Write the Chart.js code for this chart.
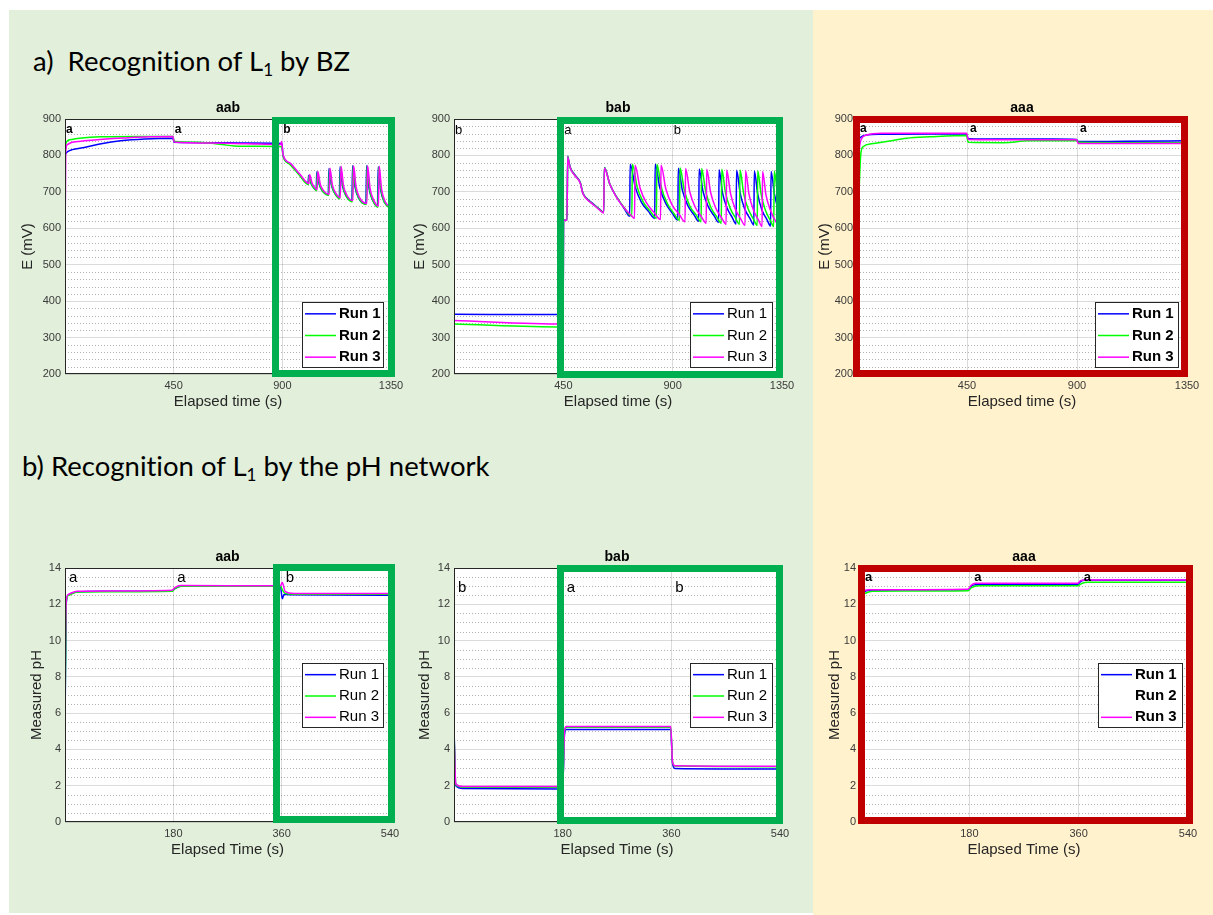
<!DOCTYPE html>
<html>
<head>
<meta charset="utf-8">
<script src="https://cdn.jsdelivr.net/npm/chart.js@4.4.1/dist/chart.umd.min.js"></script>
<style>
	body{margin:0;background:#fff;width:1213px;height:915px;position:relative;overflow:hidden;}
	.panel{position:absolute;}
	#fondoVerde{left:9px;top:10px;width:804px;height:903px;background:#e2efda;}
	#fondoAmarillo{left:813px;top:10px;width:400px;height:905px;background:#fff2cc;}
	.encabezado{position:absolute;font-family:Lato,sans-serif;font-size:27.5px;line-height:32px;color:#000;white-space:pre;font-variant-ligatures:none;}
	.encabezado sub{font-size:0.62em;vertical-align:-0.3em;line-height:0;}
	canvas{position:absolute;}
	.marco{position:absolute;box-sizing:border-box;border:7px solid #00b050;}
	.marco.rojo{border-color:#c00000;}
</style>
</head>
<body>
<div class="panel" id="fondoVerde"></div>
<div class="panel" id="fondoAmarillo"></div>
<div class="encabezado" style="left:33px;top:45px;">a)  Recognition of L<sub>1</sub> by BZ</div>
<div class="encabezado" style="left:22px;top:450px;">b) Recognition of L<sub>1</sub> by the pH network</div>

<canvas id="bzAab"></canvas>
<canvas id="bzBab"></canvas>
<canvas id="bzAaa"></canvas>
<canvas id="phAab"></canvas>
<canvas id="phBab"></canvas>
<canvas id="phAaa"></canvas>

<div class="marco" style="left:272px;top:117px;width:123px;height:260px;"></div>
<div class="marco" style="left:557px;top:117px;width:226px;height:261px;"></div>
<div class="marco rojo" style="left:853px;top:116px;width:335px;height:261px;"></div>
<div class="marco" style="left:273px;top:564px;width:122px;height:259px;"></div>
<div class="marco" style="left:557px;top:565px;width:226px;height:259px;"></div>
<div class="marco rojo" style="left:858px;top:565px;width:335px;height:259px;"></div>

<script>
// Run names and colours
const runLabels = ['Run 1', 'Run 2', 'Run 3'];
const runColors = ['#0000ff', '#00ff00', '#ff00ff'];

// BZ aab (time in s, E in mV)
const bzAabTime1 = [0,4,12,30,80,150,230,330,447,452,600,750,898,903,930,970,1006,1009,1019,1030,1040,1043,1053,1068,1090,1093,1103,1118,1136,1139,1149,1164,1188,1191,1201,1216,1246,1249,1259,1274,1294,1297,1307,1322,1350];
const bzAabRun1  = [800,806,811,816,822,832,840,845,847,836,835,834,833,800,778,748,722,745,723,711,705,755,720,701,692,764,719,695,683,769,717,689,675,772,714,683,667,772,710,677,660,769,706,672,655];
const bzAabTime2 = [0,3,10,30,60,150,300,447,452,550,650,700,800,898,903,930,970,1008,1011,1021,1032,1042,1045,1055,1070,1092,1095,1105,1120,1138,1141,1151,1166,1190,1193,1203,1218,1248,1251,1261,1276,1296,1299,1309,1324,1350];
const bzAabRun2  = [800,830,840,844,847,851,852,852,839,836,830,826,825,824,798,776,746,720,744,721,709,703,754,718,699,690,763,717,693,681,768,715,687,673,771,712,681,665,771,708,675,658,768,704,670,653];
const bzAabTime3 = [0,1,3,10,30,80,170,250,350,447,452,600,750,893,897,903,932,972,1010,1013,1023,1034,1044,1047,1057,1072,1094,1097,1107,1122,1140,1143,1153,1168,1192,1195,1205,1220,1250,1253,1263,1278,1298,1301,1311,1326,1350];
const bzAabRun3  = [370,640,810,830,836,840,845,848,851,852,837,834,832,830,838,802,779,749,723,747,724,712,706,756,721,702,693,765,720,696,684,770,718,690,676,772,715,684,668,772,711,678,661,770,707,673,657];

// BZ bab
const bzBabTime1 = [0,449,451,465,468,471,478,497,515,520,530,545,573,600,616,619,642,669,700,723,725,746,771,802,826,828,847,871,899,921,923,940,962,988,1007,1009,1025,1046,1071,1089,1091,1105,1123,1145,1161,1163,1178,1196,1218,1234,1236,1250,1267,1288,1303,1305,1319,1336,1350];
const bzBabRun1  = [364,363,622,622,798,790,768,747,732,725,698,683,667,652,644,767,720,686,655,633,776,713,672,645,627,776,712,669,641,623,765,704,663,637,619,763,701,660,634,616,761,698,657,630,612,759,696,654,627,609,757,694,651,624,606,756,693,650,632];
const bzBabTime2 = [0,449,451,465,468,471,478,497,515,520,530,545,573,600,616,619,642,669,700,732,734,754,779,810,833,835,854,878,906,928,930,948,970,997,1017,1019,1036,1056,1081,1100,1102,1117,1136,1158,1175,1177,1192,1210,1232,1248,1250,1264,1281,1301,1316,1318,1332,1350];
const bzBabRun2  = [337,329,622,622,797,789,767,746,731,724,697,682,666,651,643,766,720,686,657,633,776,713,672,645,627,776,711,668,640,622,766,704,662,636,618,764,701,659,632,614,762,699,656,629,611,760,696,654,626,608,758,694,651,623,605,757,693,652];
const bzBabTime3 = [0,449,451,465,468,471,478,497,515,520,530,545,573,600,616,619,642,669,705,730,743,745,766,793,825,850,852,872,897,928,951,953,970,992,1018,1038,1040,1056,1077,1101,1120,1122,1138,1157,1180,1198,1200,1214,1232,1253,1268,1270,1284,1302,1325,1350];
const bzBabRun3  = [347,337,622,622,796,788,766,745,730,723,696,681,665,650,642,765,720,685,652,635,627,773,710,669,642,624,773,708,665,637,618,764,701,659,632,614,762,699,656,629,611,760,696,654,626,608,758,694,651,623,605,756,692,650,618,603];

// BZ aaa
const bzAaaTime1 = [0,5,15,40,100,300,448,455,600,800,898,905,1100,1350];
const bzAaaRun1  = [790,835,850,856,858,859,859,846,845,845,844,838,839,840];
const bzAaaTime2 = [0,8,15,25,60,121,203,298,448,455,600,700,898,905,1100,1350];
const bzAaaRun2  = [641,700,800,824,832,838,847,851,855,836,835,840,841,836,835,835];
const bzAaaTime3 = [3,15,40,100,300,448,455,700,898,905,1100,1350];
const bzAaaRun3  = [783,840,856,861,861,861,844,843,843,833,833,833];

// pH aab
const phAabTime1 = [0,2,5,19,60,178,182,192,300,358,361,364,375,540];
const phAabRun1  = [5.0,12.0,12.5,12.68,12.72,12.75,12.85,13.0,13.02,13.0,12.3,12.55,12.52,12.5];
const phAabTime2 = [0,2,6,20,178,182,192,358,361,366,380,540];
const phAabRun2  = [5.5,12.1,12.5,12.68,12.72,12.85,13.0,13.0,12.8,12.6,12.55,12.55];
const phAabTime3 = [0,2,6,20,178,182,192,358,361,366,380,540];
const phAabRun3  = [8.0,12.2,12.55,12.72,12.78,12.9,13.03,13.02,13.2,12.7,12.6,12.6];

// pH bab
const phBabTime  = [0,3,15,180,183,186,359,362,366,540];
const phBabRun1  = [5.2,2.0,1.85,1.82,4.8,5.1,5.1,3.2,2.95,2.92];
const phBabRun2  = [5.0,2.05,1.92,1.92,5.0,5.22,5.22,3.3,3.08,3.05];
const phBabRun3  = [4.8,2.1,1.95,1.95,5.0,5.26,5.26,3.3,3.1,3.07];

// pH aaa
const phAaaTime1 = [0,5,15,178,183,190,358,363,370,540];
const phAaaRun1  = [12.5,12.65,12.78,12.8,13.0,13.08,13.08,13.25,13.32,13.32];
const phAaaTime2 = [0,8,20,178,183,195,358,365,375,540];
const phAaaRun2  = [12.45,12.6,12.72,12.75,12.9,13.02,13.02,13.15,13.21,13.21];
const phAaaTime3 = [0,5,15,178,183,190,358,363,370,540];
const phAaaRun3  = [12.7,12.75,12.8,12.83,13.05,13.16,13.16,13.3,13.34,13.34];

// Segment labels (input letters) and when they start
const bzMarkTimes = [0, 450, 900];
const phMarkTimes = [0, 180, 360];
const marksAab = ['a', 'a', 'b'];
const marksBab = ['b', 'a', 'b'];
const marksAaa = ['a', 'a', 'a'];

const fontSans = '"Liberation Sans", Arial, sans-serif';

const toPoints = function(times, values){
	return times.map((t, i) => ({x: t, y: values[i]}));
};

// white plot area, dotted minor grid, box, title, letters and legend
const decorPlugin = {
	id: 'decor',
	beforeDraw(chart){
		const {ctx, chartArea: a} = chart;
		ctx.save();
		ctx.fillStyle = '#fff';
		ctx.fillRect(a.left, a.top, a.width, a.height);
		ctx.restore();
	},
	beforeDatasetsDraw(chart, args, opts){
		const {ctx, chartArea: a, scales: {y}} = chart;
		ctx.save();
		ctx.strokeStyle = 'rgba(0,0,0,0.3)';
		ctx.lineWidth = 1;
		ctx.setLineDash([1, 2]);
		for(let v = y.min + opts.minorStep; v < y.max - 1e-6; v += opts.minorStep){
			let r = v / opts.majorStep;
			if(Math.abs(r - Math.round(r)) < 1e-6) continue;
			let py = Math.round(y.getPixelForValue(v)) + 0.5;
			ctx.beginPath();
			ctx.moveTo(a.left, py);
			ctx.lineTo(a.right, py);
			ctx.stroke();
		}
		ctx.restore();
	},
	afterDatasetsDraw(chart, args, opts){
		const {ctx, chartArea: a, scales: {x}} = chart;
		ctx.save();

		// axes box
		ctx.strokeStyle = '#262626';
		ctx.lineWidth = 1;
		ctx.strokeRect(Math.round(a.left) + 0.5, Math.round(a.top) + 0.5, Math.round(a.width) - 1, Math.round(a.height) - 1);

		// title
		ctx.fillStyle = '#000';
		ctx.font = 'bold 14px ' + fontSans;
		ctx.textAlign = 'center';
		ctx.textBaseline = 'middle';
		ctx.fillText(opts.title, (a.left + a.right) / 2, a.top - 11);

		// a / b letters
		ctx.textAlign = 'left';
		ctx.font = opts.markFont + ' ' + fontSans;
		opts.markTimes.forEach((t, i) => {
			ctx.fillText(opts.marks[i], x.getPixelForValue(t) + opts.markDx, a.top + opts.markDy);
		});

		// legend
		const lg = opts.legend;
		const bx = Math.round(a.right - lg.right - lg.w);
		const by = Math.round(a.top + lg.top);
		ctx.fillStyle = '#fff';
		ctx.fillRect(bx, by, lg.w, lg.h);
		ctx.strokeStyle = '#262626';
		ctx.strokeRect(bx + 0.5, by + 0.5, lg.w, lg.h);
		ctx.font = (lg.bold ? 'bold ' : '') + '15px ' + fontSans;
		chart.data.datasets.forEach((ds, i) => {
			let ry = by + lg.h * (i + 0.5) / 3 + 1;
			if(lg.hide.indexOf(i) < 0){
				ctx.strokeStyle = ds.borderColor;
				ctx.lineWidth = 1.5;
				ctx.beginPath();
				ctx.moveTo(bx + 3, ry);
				ctx.lineTo(bx + 34, ry);
				ctx.stroke();
			}
			ctx.fillStyle = '#000';
			ctx.fillText(ds.label, bx + 37, ry);
		});
		ctx.restore();
	}
};

const crearGrafica = function(id, cfg){
	const canvas = document.getElementById(id);
	const w = cfg.box.axisW + cfg.box.plotW + 20;
	const h = 25 + cfg.box.plotH + 41;
	canvas.width = w;
	canvas.height = h;
	canvas.style.left = cfg.box.left + 'px';
	canvas.style.top = cfg.box.top + 'px';

	const datasets = cfg.series.map((s, i) => ({
		label: runLabels[i],
		data: toPoints(s[0], s[1]),
		borderColor: runColors[i],
		borderWidth: 1.5,
		pointRadius: 0,
		fill: false,
		cubicInterpolationMode: 'monotone',
		order: 3 - i
	}));

	return new Chart(canvas, {
		type: 'line',
		data: {datasets: datasets},
		options: {
			responsive: false,
			animation: false,
			devicePixelRatio: 1,
			layout: {padding: {top: 25, right: 20, left: 0, bottom: 0}},
			plugins: {
				legend: {display: false},
				tooltip: {enabled: false},
				decor: {
					title: cfg.title,
					minorStep: cfg.minorStep,
					majorStep: cfg.yStep,
					marks: cfg.marks,
					markTimes: cfg.markTimes,
					markFont: cfg.markFont,
					markDx: cfg.markDx,
					markDy: cfg.markDy,
					legend: cfg.legend
				}
			},
			scales: {
				x: {
					type: 'linear',
					min: 0,
					max: cfg.xMax,
					ticks: {
						stepSize: cfg.xStep,
						autoSkip: false,
						maxRotation: 0,
						padding: 5,
						color: '#3a3a3a',
						font: {family: fontSans, size: 11},
						callback: v => v === 0 ? '' : String(v)
					},
					grid: {
						drawTicks: false,
						lineWidth: 1,
						color: c => (c.tick && (c.tick.value === 0 || c.tick.value === cfg.xMax)) ? 'rgba(0,0,0,0)' : 'rgba(0,0,0,0.14)'
					},
					border: {display: false},
					title: {display: true, text: cfg.xTitle, color: '#262626', font: {family: fontSans, size: 15}, padding: {top: 4, bottom: 4}},
					afterFit: s => { s.height = 41; }
				},
				y: {
					min: cfg.yMin,
					max: cfg.yMax,
					ticks: {
						stepSize: cfg.yStep,
						padding: 4,
						color: '#3a3a3a',
						font: {family: fontSans, size: 11}
					},
					grid: {drawTicks: false, lineWidth: 1, color: 'rgba(0,0,0,0.14)'},
					border: {display: false},
					title: {display: true, text: cfg.yTitle, color: '#262626', font: {family: fontSans, size: 15}, padding: {top: 4, bottom: 4}},
					afterFit: s => { s.width = cfg.box.axisW; }
				}
			}
		},
		plugins: [decorPlugin]
	});
};

const bzBase = {xMax: 1350, xStep: 450, yMin: 200, yMax: 900, yStep: 100, minorStep: 20, xTitle: 'Elapsed time (s)', yTitle: 'E (mV)', markTimes: bzMarkTimes};
const phBase = {xMax: 540, xStep: 180, yMin: 0, yMax: 14, yStep: 2, minorStep: 0.5, xTitle: 'Elapsed Time (s)', yTitle: 'Measured pH', markTimes: phMarkTimes};

crearGrafica('bzAab', Object.assign({}, bzBase, {
	box: {left: 15, top: 94, axisW: 50, plotW: 326, plotH: 255},
	title: 'aab', marks: marksAab, markFont: 'bold 12px', markDx: 1, markDy: 11,
	legend: {right: 8, top: 183, w: 81, h: 65, bold: true, hide: []},
	series: [[bzAabTime1, bzAabRun1], [bzAabTime2, bzAabRun2], [bzAabTime3, bzAabRun3]]
}));

crearGrafica('bzBab', Object.assign({}, bzBase, {
	box: {left: 407, top: 94, axisW: 47, plotW: 328, plotH: 255},
	title: 'bab', marks: marksBab, markFont: '13px', markDx: 1, markDy: 11,
	legend: {right: 10, top: 183, w: 82, h: 65, bold: false, hide: []},
	series: [[bzBabTime1, bzBabRun1], [bzBabTime2, bzBabRun2], [bzBabTime3, bzBabRun3]]
}));

crearGrafica('bzAaa', Object.assign({}, bzBase, {
	box: {left: 812, top: 94, axisW: 45, plotW: 330, plotH: 255},
	title: 'aaa', marks: marksAaa, markFont: 'bold 12px', markDx: 3, markDy: 10,
	legend: {right: 9, top: 183, w: 83, h: 65, bold: true, hide: []},
	series: [[bzAaaTime1, bzAaaRun1], [bzAaaTime2, bzAaaRun2], [bzAaaTime3, bzAaaRun3]]
}));

crearGrafica('phAab', Object.assign({}, phBase, {
	box: {left: 24, top: 543, axisW: 41, plotW: 325, plotH: 254},
	title: 'aab', marks: marksAab, markFont: '15px', markDx: 4, markDy: 10,
	legend: {right: 7, top: 95, w: 81, h: 64, bold: false, hide: []},
	series: [[phAabTime1, phAabRun1], [phAabTime2, phAabRun2], [phAabTime3, phAabRun3]]
}));

crearGrafica('phBab', Object.assign({}, phBase, {
	box: {left: 412, top: 543, axisW: 42, plotW: 326, plotH: 254},
	title: 'bab', marks: marksBab, markFont: '15px', markDx: 4, markDy: 20,
	legend: {right: 8, top: 95, w: 82, h: 64, bold: false, hide: []},
	series: [[phBabTime, phBabRun1], [phBabTime, phBabRun2], [phBabTime, phBabRun3]]
}));

crearGrafica('phAaa', Object.assign({}, phBase, {
	box: {left: 822, top: 543, axisW: 38, plotW: 328, plotH: 254},
	title: 'aaa', marks: marksAaa, markFont: 'bold 13px', markDx: 5, markDy: 9,
	legend: {right: 6, top: 95, w: 84, h: 64, bold: true, hide: [1]},
	series: [[phAaaTime1, phAaaRun1], [phAaaTime2, phAaaRun2], [phAaaTime3, phAaaRun3]]
}));
</script>
</body>
</html>
